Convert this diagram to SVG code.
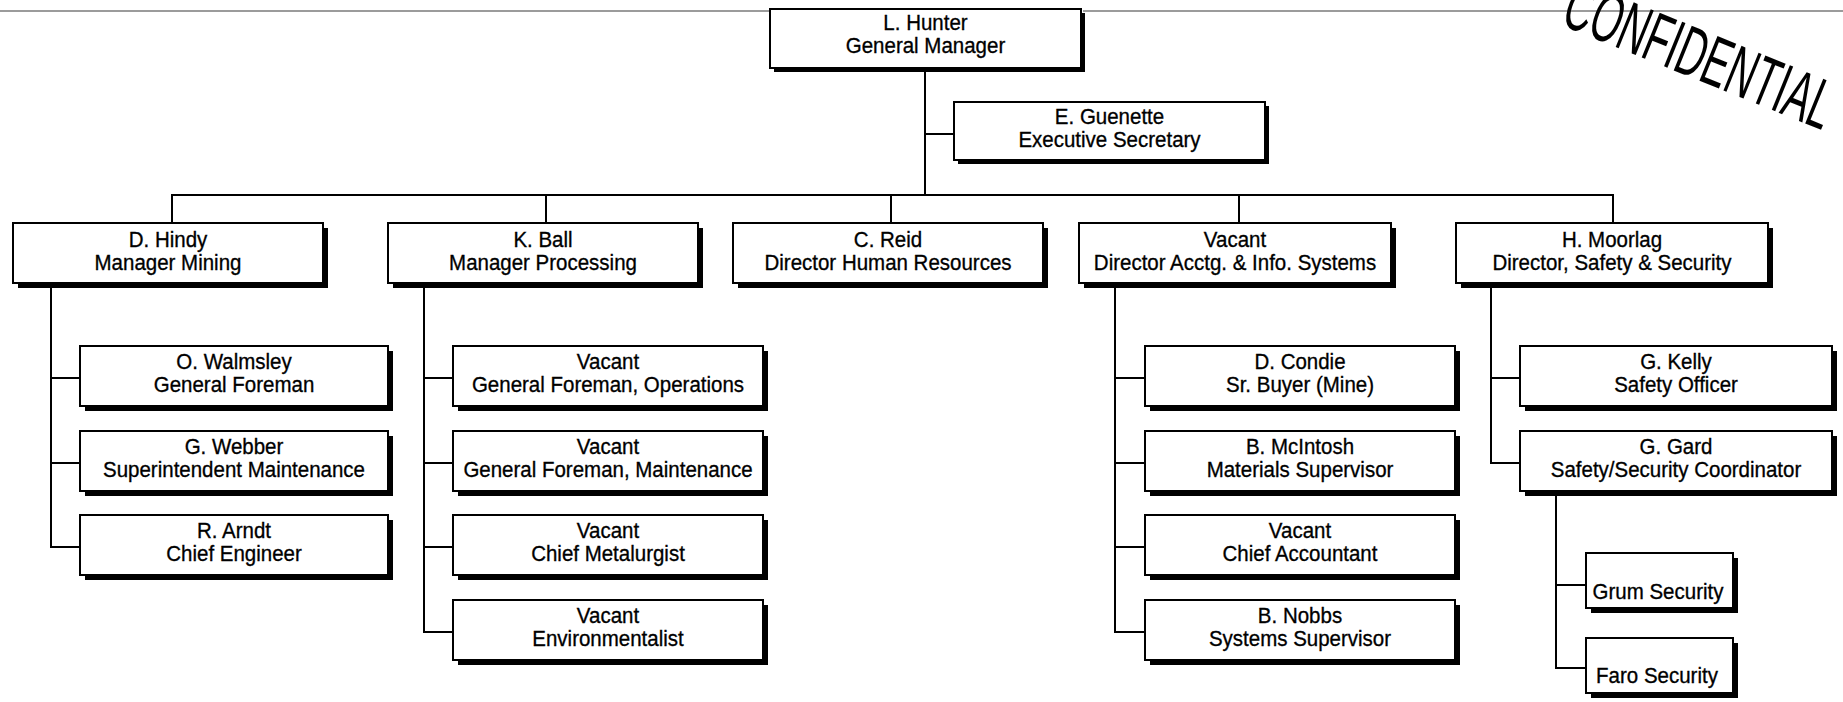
<svg xmlns="http://www.w3.org/2000/svg" width="1843" height="702" viewBox="0 0 1843 702">
  <style>
    .bg { fill: #ffffff; }
    .rule { stroke: #7a7a7a; stroke-width: 1.6; fill: none; }
    .link { stroke: #000000; stroke-width: 2; fill: none; stroke-linecap: square; }
    .shadow { fill: #000000; }
    .box { fill: #ffffff; stroke: #000000; stroke-width: 2; }
    .t { font-family: "Liberation Sans", Arial, sans-serif; font-size: 20.5px; fill: #000000; stroke: #000000; stroke-width: 0.3; text-anchor: middle; }
    .stamp { font-family: "Liberation Sans", Arial, sans-serif; font-size: 70px; fill: #000000; }
  </style>
  <defs>
    <!-- standard org-chart card: white box with a heavy drop shadow -->
    <g id="card310">
      <rect class="shadow" x="5" y="5" width="310" height="60"/>
      <rect class="box" x="0" y="0" width="310" height="60"/>
    </g>
    <g id="card312">
      <rect class="shadow" x="5" y="5" width="312" height="60"/>
      <rect class="box" x="0" y="0" width="312" height="60"/>
    </g>
    <g id="card308">
      <rect class="shadow" x="5" y="5" width="308" height="60"/>
      <rect class="box" x="0" y="0" width="308" height="60"/>
    </g>
    <g id="cardSmall">
      <rect class="shadow" x="5" y="5" width="147" height="55"/>
      <rect class="box" x="0" y="0" width="147" height="55"/>
    </g>
  </defs>

  <rect class="bg" x="0" y="0" width="1843" height="702"/>

  <!-- page header rule -->
  <g id="header-rule">
    <line class="rule" x1="0" y1="11" x2="770" y2="11"/>
    <line class="rule" x1="1083" y1="11" x2="1843" y2="11"/>
  </g>

  <!-- reporting lines -->
  <g id="connectors">
    <!-- general manager trunk and secretary branch -->
    <line class="link" x1="925" y1="68" x2="925" y2="195"/>
    <line class="link" x1="925" y1="134" x2="954" y2="134"/>
    <!-- direct reports bus -->
    <line class="link" x1="172" y1="195" x2="1613" y2="195"/>
    <line class="link" x1="172" y1="195" x2="172" y2="223"/>
    <line class="link" x1="546" y1="195" x2="546" y2="223"/>
    <line class="link" x1="891" y1="195" x2="891" y2="223"/>
    <line class="link" x1="1239" y1="195" x2="1239" y2="223"/>
    <line class="link" x1="1613" y1="195" x2="1613" y2="223"/>
    <!-- mining -->
    <line class="link" x1="51" y1="283" x2="51" y2="547"/>
    <line class="link" x1="51" y1="378" x2="80" y2="378"/>
    <line class="link" x1="51" y1="463" x2="80" y2="463"/>
    <line class="link" x1="51" y1="547" x2="80" y2="547"/>
    <!-- processing -->
    <line class="link" x1="424" y1="283" x2="424" y2="632"/>
    <line class="link" x1="424" y1="378" x2="453" y2="378"/>
    <line class="link" x1="424" y1="463" x2="453" y2="463"/>
    <line class="link" x1="424" y1="547" x2="453" y2="547"/>
    <line class="link" x1="424" y1="632" x2="453" y2="632"/>
    <!-- accounting & info systems -->
    <line class="link" x1="1115" y1="283" x2="1115" y2="632"/>
    <line class="link" x1="1115" y1="378" x2="1145" y2="378"/>
    <line class="link" x1="1115" y1="463" x2="1145" y2="463"/>
    <line class="link" x1="1115" y1="547" x2="1145" y2="547"/>
    <line class="link" x1="1115" y1="632" x2="1145" y2="632"/>
    <!-- safety & security -->
    <line class="link" x1="1491" y1="283" x2="1491" y2="463"/>
    <line class="link" x1="1491" y1="378" x2="1520" y2="378"/>
    <line class="link" x1="1491" y1="463" x2="1520" y2="463"/>
    <!-- security contractors -->
    <line class="link" x1="1556" y1="491" x2="1556" y2="668"/>
    <line class="link" x1="1556" y1="585" x2="1586" y2="585"/>
    <line class="link" x1="1556" y1="668" x2="1586" y2="668"/>
  </g>

  <!-- executive -->
  <g id="hunter">
    <rect class="shadow" x="774" y="13" width="311" height="59"/>
    <rect class="box" x="770" y="9" width="311" height="59"/>
    <text class="t" transform="translate(925.5,9) scale(1,1.12)"><tspan x="0" y="19">L. Hunter</tspan><tspan x="0" y="39.5">General Manager</tspan></text>
  </g>
  <g id="guenette">
    <rect class="shadow" x="958" y="106" width="311" height="58"/>
    <rect class="box" x="954" y="102" width="311" height="58"/>
    <text class="t" transform="translate(1109.5,102) scale(1,1.12)"><tspan x="0" y="19.6">E. Guenette</tspan><tspan x="0" y="40.2">Executive Secretary</tspan></text>
  </g>

  <!-- department heads -->
  <g id="hindy">
    <use href="#card310" x="13" y="223"/>
    <text class="t" transform="translate(168,223) scale(1,1.12)"><tspan x="0" y="21.4">D. Hindy</tspan><tspan x="0" y="42">Manager Mining</tspan></text>
  </g>
  <g id="ball">
    <use href="#card310" x="388" y="223"/>
    <text class="t" transform="translate(543,223) scale(1,1.12)"><tspan x="0" y="21.4">K. Ball</tspan><tspan x="0" y="42">Manager Processing</tspan></text>
  </g>
  <g id="reid">
    <use href="#card310" x="733" y="223"/>
    <text class="t" transform="translate(888,223) scale(1,1.12)"><tspan x="0" y="21.4">C. Reid</tspan><tspan x="0" y="42">Director Human Resources</tspan></text>
  </g>
  <g id="acctg">
    <use href="#card312" x="1079" y="223"/>
    <text class="t" transform="translate(1235,223) scale(1,1.12)"><tspan x="0" y="21.4">Vacant</tspan><tspan x="0" y="42">Director Acctg. &amp; Info. Systems</tspan></text>
  </g>
  <g id="moorlag">
    <use href="#card312" x="1456" y="223"/>
    <text class="t" transform="translate(1612,223) scale(1,1.12)"><tspan x="0" y="21.4">H. Moorlag</tspan><tspan x="0" y="42">Director, Safety &amp; Security</tspan></text>
  </g>

  <!-- mining staff -->
  <g id="walmsley">
    <use href="#card308" x="80" y="346"/>
    <text class="t" transform="translate(234,346) scale(1,1.12)"><tspan x="0" y="20.3">O. Walmsley</tspan><tspan x="0" y="40.8">General Foreman</tspan></text>
  </g>
  <g id="webber">
    <use href="#card308" x="80" y="431"/>
    <text class="t" transform="translate(234,431) scale(1,1.12)"><tspan x="0" y="20.3">G. Webber</tspan><tspan x="0" y="40.8">Superintendent Maintenance</tspan></text>
  </g>
  <g id="arndt">
    <use href="#card308" x="80" y="515"/>
    <text class="t" transform="translate(234,515) scale(1,1.12)"><tspan x="0" y="20.3">R. Arndt</tspan><tspan x="0" y="40.8">Chief Engineer</tspan></text>
  </g>

  <!-- processing staff -->
  <g id="gf-operations">
    <use href="#card310" x="453" y="346"/>
    <text class="t" transform="translate(608,346) scale(1,1.12)"><tspan x="0" y="20.3">Vacant</tspan><tspan x="0" y="40.8">General Foreman, Operations</tspan></text>
  </g>
  <g id="gf-maintenance">
    <use href="#card310" x="453" y="431"/>
    <text class="t" transform="translate(608,431) scale(1,1.12)"><tspan x="0" y="20.3">Vacant</tspan><tspan x="0" y="40.8">General Foreman, Maintenance</tspan></text>
  </g>
  <g id="metallurgist">
    <use href="#card310" x="453" y="515"/>
    <text class="t" transform="translate(608,515) scale(1,1.12)"><tspan x="0" y="20.3">Vacant</tspan><tspan x="0" y="40.8">Chief Metalurgist</tspan></text>
  </g>
  <g id="environmentalist">
    <use href="#card310" x="453" y="600"/>
    <text class="t" transform="translate(608,600) scale(1,1.12)"><tspan x="0" y="20.3">Vacant</tspan><tspan x="0" y="40.8">Environmentalist</tspan></text>
  </g>

  <!-- accounting & info systems staff -->
  <g id="condie">
    <use href="#card310" x="1145" y="346"/>
    <text class="t" transform="translate(1300,346) scale(1,1.12)"><tspan x="0" y="20.3">D. Condie</tspan><tspan x="0" y="40.8">Sr. Buyer (Mine)</tspan></text>
  </g>
  <g id="mcintosh">
    <use href="#card310" x="1145" y="431"/>
    <text class="t" transform="translate(1300,431) scale(1,1.12)"><tspan x="0" y="20.3">B. McIntosh</tspan><tspan x="0" y="40.8">Materials Supervisor</tspan></text>
  </g>
  <g id="chief-accountant">
    <use href="#card310" x="1145" y="515"/>
    <text class="t" transform="translate(1300,515) scale(1,1.12)"><tspan x="0" y="20.3">Vacant</tspan><tspan x="0" y="40.8">Chief Accountant</tspan></text>
  </g>
  <g id="nobbs">
    <use href="#card310" x="1145" y="600"/>
    <text class="t" transform="translate(1300,600) scale(1,1.12)"><tspan x="0" y="20.3">B. Nobbs</tspan><tspan x="0" y="40.8">Systems Supervisor</tspan></text>
  </g>

  <!-- safety & security staff -->
  <g id="kelly">
    <use href="#card312" x="1520" y="346"/>
    <text class="t" transform="translate(1676,346) scale(1,1.12)"><tspan x="0" y="20.3">G. Kelly</tspan><tspan x="0" y="40.8">Safety Officer</tspan></text>
  </g>
  <g id="gard">
    <use href="#card312" x="1520" y="431"/>
    <text class="t" transform="translate(1676,431) scale(1,1.12)"><tspan x="0" y="20.3">G. Gard</tspan><tspan x="0" y="40.8">Safety/Security Coordinator</tspan></text>
  </g>
  <g id="grum">
    <use href="#cardSmall" x="1586" y="553"/>
    <text class="t" transform="translate(1658,553) scale(1,1.12)" x="0" y="41">Grum Security</text>
  </g>
  <g id="faro">
    <use href="#cardSmall" x="1586" y="638"/>
    <text class="t" transform="translate(1657,638) scale(1,1.12)" x="0" y="40">Faro Security</text>
  </g>

  <!-- rubber stamp -->
  <g id="confidential-stamp">
    <text class="stamp" transform="translate(1559,24) rotate(22)" x="0" y="0" textLength="284" lengthAdjust="spacingAndGlyphs">CONFIDENTIAL</text>
  </g>
</svg>
